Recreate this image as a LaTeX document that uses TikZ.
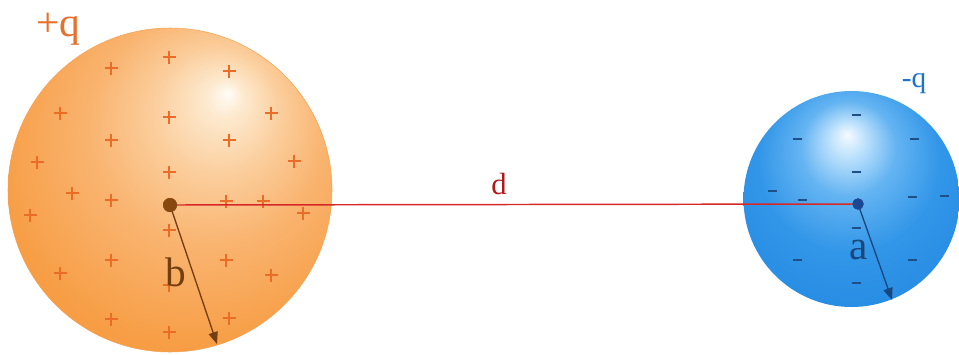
\documentclass[tikz,border=0pt]{standalone}
\usepackage{fontspec}
\setmainfont{Liberation Serif}
\usetikzlibrary{arrows.meta}

\definecolor{ohigh}{RGB}{255,252,247}
\definecolor{olight}{RGB}{253,233,206}
\definecolor{omid}{RGB}{251,205,155}
\definecolor{odeep}{RGB}{249,180,112}
\definecolor{odark}{RGB}{247,158,70}
\definecolor{oedge}{RGB}{244,140,40}
\definecolor{bhigh}{RGB}{245,250,255}
\definecolor{blight}{RGB}{190,226,252}
\definecolor{bmid}{RGB}{100,180,242}
\definecolor{bdeep}{RGB}{50,150,232}
\definecolor{bedge}{RGB}{25,130,222}
\definecolor{plusorange}{RGB}{234,108,38}
\definecolor{minusblue}{RGB}{30,80,135}
\definecolor{lineRed}{RGB}{215,40,40}
\definecolor{dRed}{RGB}{175,25,25}
\definecolor{bBrown}{RGB}{115,62,18}
\definecolor{aBlue}{RGB}{25,70,125}
\definecolor{qOrange}{RGB}{232,112,42}
\definecolor{qBlue}{RGB}{30,115,195}

\pgfdeclareradialshading{orangeball}{\pgfpoint{9bp}{15bp}}{color(0bp)=(ohigh); color(3bp)=(olight); color(10bp)=(omid); color(18bp)=(odeep); color(30bp)=(odark); color(45bp)=(oedge); color(50bp)=(oedge)}
\pgfdeclareradialshading{blueball}{\pgfpoint{-1bp}{15bp}}{color(0bp)=(bhigh); color(4bp)=(blight); color(11bp)=(bmid); color(21bp)=(bdeep); color(45bp)=(bedge); color(50bp)=(bedge)}

\begin{document}
\begin{tikzpicture}[
                x=0.75pt, y=-0.75pt,
                plusmark/.style={draw=plusorange, line width=0.9pt},
                minusmark/.style={draw=minusblue, line width=2pt},
                odot/.style={circle, fill=bBrown!85!orange, inner sep=0pt, minimum size=10.5pt},
                bdot/.style={circle, fill=minusblue!90!blue, inner sep=0pt, minimum size=8.5pt},
                radius arrow/.style={line width=1pt, -{Triangle[length=9pt, width=7pt]}},
                dline/.style={draw=lineRed, line width=1.1pt},
                lbl/.style={inner sep=0pt, anchor=base}]

            \useasboundingbox (0,0) rectangle (959,354);

            % Spheres
            \coordinate (pc) at (170,190);
            \coordinate (nc) at (851.5,199);
            \shade[shading=orangeball] (pc) circle[radius=162];
            \draw[oedge!80!white, line width=0.4pt] (pc) circle[radius=162];
            \shade[shading=blueball] (nc) circle[radius=108];

            % Charges
            \foreach \x/\y in {169/57, 111/68, 229/71, 60/113, 169/117, 271/113,
                               111/140, 229/140, 37/162, 169/172, 294/161, 72/193,
                               111/200, 226/201, 263/201, 30/215, 303/213, 169/230,
                               111/260, 226/260, 60/273, 271/275, 169/285, 111/319,
                               229/318, 169/332}
                \draw[plusmark] (\x,\y) +(-6.5,0) -- +(6.5,0) +(0,-6.5) -- +(0,6.5);
            \foreach \x/\y in {856/115, 797/139, 914/139, 856/172, 772/191, 802/200,
                               912/197, 944/196, 856/228, 797/260, 912/260, 856/283}
                \draw[minusmark] (\x,\y) +(-4.5,0) -- +(4.5,0);

            % Centres and radii
            \node[odot] (pcen) at (170,205) {};
            \node[bdot] (ncen) at (858,204) {};
            \coordinate (bend) at (217,344);
            \coordinate (aend) at (892,300);

            \draw[dline] (pcen.center) -- (ncen.center);
            \draw[radius arrow, bBrown] (pcen.center) -- (bend);
            \draw[radius arrow, aBlue] (ncen.center) -- (aend);
            \node[odot] at (pcen) {};
            \node[bdot] at (ncen) {};

            % Labels
            \node[lbl, text=qOrange, font=\fontsize{31}{33}\selectfont] (qpos) at (58,36) {+q};
            \node[lbl, text=qBlue, font=\fontsize{22}{25}\selectfont] (qneg) at (914,87) {-q};
            \node[lbl, text=dRed, font=\fontsize{23}{26}\selectfont] (dlab) at (499,194) {d};
            \node[lbl, text=bBrown, font=\fontsize{31}{34}\selectfont] (blab) at (176,286) {b};
            \node[lbl, text=aBlue, font=\fontsize{31}{34}\selectfont] (alab) at (859,259) {a};

        \end{tikzpicture}
\end{document}
